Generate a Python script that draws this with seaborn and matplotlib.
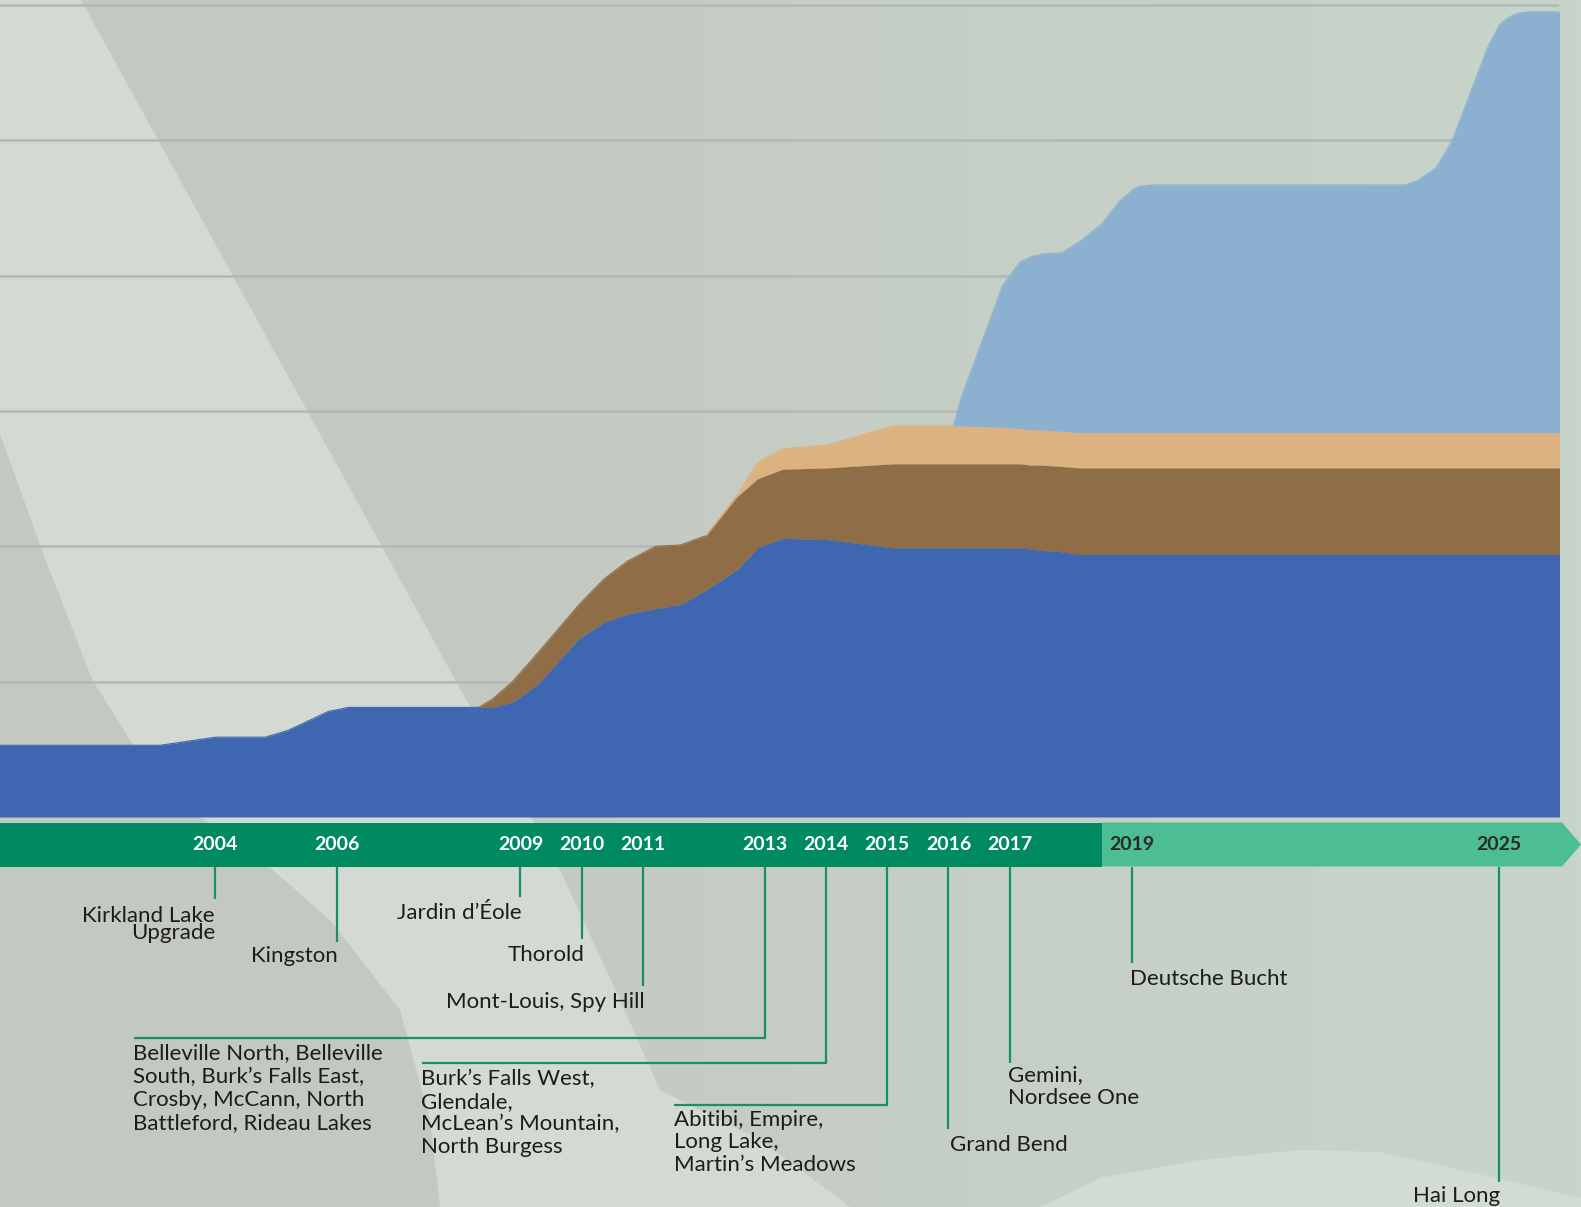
import numpy as np
import matplotlib
matplotlib.use("Agg")
import matplotlib.pyplot as plt
from matplotlib.patches import Polygon
from matplotlib.colors import LinearSegmentedColormap
import seaborn as sns

# ---------------- data ----------------
years = [2000.40, 2003.11, 2004.02, 2004.83, 2005.20, 2005.86, 2006.19, 2008.32, 2008.54, 2008.87,
         2009.28, 2009.96, 2010.37, 2010.75, 2011.21, 2011.62, 2012.04, 2012.55, 2012.88, 2013.29,
         2014.03, 2015.09, 2016.08, 2016.21, 2016.89,
         2017.17, 2017.35, 2017.53, 2017.86, 2018.14, 2018.50, 2018.80, 2019.03, 2019.13, 2019.33,
         2023.47, 2023.70, 2023.98, 2024.23, 2024.61, 2024.83, 2025.02, 2025.16, 2025.32, 2025.50,
         2026.10]

series_blue = [0.53, 0.53, 0.59, 0.59, 0.64, 0.78, 0.81, 0.81, 0.81, 0.85,
               0.98, 1.32, 1.44, 1.50, 1.54, 1.57, 1.68, 1.83, 1.99, 2.06,
               2.05, 1.99, 1.99, 1.99, 1.99,
               1.99, 1.98, 1.97, 1.96, 1.94, 1.94, 1.94, 1.94, 1.94, 1.94,
               1.94, 1.94, 1.94, 1.94, 1.94, 1.94, 1.94, 1.94, 1.94, 1.94,
               1.94]
series_brown = [0, 0, 0, 0, 0, 0, 0, 0, 0.06, 0.15,
                0.23, 0.25, 0.32, 0.39, 0.46, 0.44, 0.40, 0.54, 0.51, 0.51,
                0.53, 0.62, 0.62, 0.62, 0.62,
                0.62, 0.62, 0.63, 0.63, 0.64, 0.64, 0.64, 0.64, 0.64, 0.64,
                0.64, 0.64, 0.64, 0.64, 0.64, 0.64, 0.64, 0.64, 0.64, 0.64,
                0.64]
series_tan = [0, 0, 0, 0, 0, 0, 0, 0, 0, 0,
              0, 0, 0, 0, 0, 0, 0, 0.01, 0.12, 0.15,
              0.17, 0.28, 0.28, 0.28, 0.27,
              0.26, 0.26, 0.26, 0.26, 0.26, 0.26, 0.26, 0.26, 0.26, 0.26,
              0.26, 0.26, 0.26, 0.26, 0.26, 0.26, 0.26, 0.26, 0.26, 0.26,
              0.26]
series_lightblue = [0, 0, 0, 0, 0, 0, 0, 0, 0, 0,
                    0, 0, 0, 0, 0, 0, 0, 0, 0, 0,
                    0, 0, 0, 0.21, 1.05,
                    1.23, 1.28, 1.30, 1.32, 1.41, 1.54, 1.71, 1.80, 1.82, 1.83,
                    1.83, 1.87, 1.96, 2.15, 2.60, 2.86, 3.02, 3.07, 3.10, 3.11,
                    3.11]

milestone_years = [2004, 2006, 2009, 2010, 2011, 2013, 2014, 2015, 2016, 2017, 2019, 2025]
milestone_labels = [
    "Kirkland Lake\nUpgrade",
    "Kingston",
    "Jardin d\u2019\u00c9ole",
    "Thorold",
    "Mont-Louis, Spy Hill",
    "Belleville North, Belleville\nSouth, Burk\u2019s Falls East,\nCrosby, McCann, North\nBattleford, Rideau Lakes",
    "Burk\u2019s Falls West,\nGlendale,\nMcLean\u2019s Mountain,\nNorth Burgess",
    "Abitibi, Empire,\nLong Lake,\nMartin\u2019s Meadows",
    "Grand Bend",
    "Gemini,\nNordsee One",
    "Deutsche Bucht",
    "Hai Long",
]
planned_from = 2019  # milestones from here on are shown on the light bar

# ---------------- style ----------------
sns.set_theme(style="white")
plt.rcParams['font.family'] = ['Lato', 'DejaVu Sans']

COL_BLUE = '#3f66b0'
COL_BROWN = '#8f6e47'
COL_TAN = '#dcb280'
COL_LBLUE = '#8cb1d0'
COL_GRID = '#b3b7bb'
COL_DKGREEN = '#008a5f'
COL_LTGREEN = '#4dbd94'
COL_LEADER = '#17906a'
COL_TEXT = '#1c1c1c'

W, H = 1581, 1207
fig = plt.figure(figsize=(W / 100, H / 100), dpi=100)

# ---------------- background decoration ----------------
bg = fig.add_axes([0, 0, 1, 1], zorder=0)
bg.set_xlim(0, W)
bg.set_ylim(H, 0)
bg.axis('off')
grad = np.linspace(0, 1, 256)[None, :]
cmap = LinearSegmentedColormap.from_list('bgc', ['#c3c8c0', '#c4cac2', '#c6d0c6', '#c8d5cb'])
bg.imshow(grad, extent=[0, W, H, 0], aspect='auto', cmap=cmap, zorder=0)
light_band = [(0, 0), (81, 0), (560, 870), (620, 1000), (660, 1090), (760, 1140), (850, 1207),
              (440, 1207), (430, 1120), (400, 1010), (330, 920), (250, 850), (175, 800),
              (133, 745), (92, 679), (46, 561), (0, 434)]
bg.add_patch(Polygon(light_band, closed=True, fc='#d4dad3', ec='none', zorder=1))
hump = [(1040, 1207), (1100, 1178), (1200, 1160), (1300, 1150), (1380, 1152), (1470, 1172),
        (1581, 1198), (1581, 1207)]
bg.add_patch(Polygon(hump, closed=True, fc='#d2dcd5', ec='none', zorder=1))

# ---------------- main stacked area ----------------
px_per_year = 61.15
x0_year = 2000.49
base_px = 817
unit_px = 135.33

ax = fig.add_axes([0, 1 - base_px / H, 1559 / W, base_px / H], zorder=2)
ax.set_facecolor('none')
ax.set_xlim(x0_year, x0_year + 1559 / px_per_year)
ax.set_ylim(0, base_px / unit_px)
for g in range(1, 7):
    ax.axhline(g, color=COL_GRID, lw=1.8, zorder=1)

x = np.array(years)
layers = np.vstack([series_blue, series_brown, series_tan, series_lightblue])
cum = np.cumsum(layers, axis=0)
colors = [COL_BLUE, COL_BROWN, COL_TAN, COL_LBLUE]
lower = np.zeros_like(x)
for i, c in enumerate(colors):
    upper = cum[i]
    ax.fill_between(x, lower, upper, color=c, lw=0, zorder=3 + i)
    nz = np.nonzero(layers[i] > 0)[0]
    if len(nz):
        s = max(nz[0] - 1, 0)
        sns.lineplot(x=x[s:], y=upper[s:], color=c, lw=0.8, ax=ax, sort=False,
                     estimator=None, zorder=3 + i)
    lower = upper
ax.set_xlabel('')
ax.set_ylabel('')
ax.set_xticks([])
ax.set_yticks([])
for sp in ax.spines.values():
    sp.set_visible(False)

# ---------------- timeline + annotations ----------------
tl = fig.add_axes([0, 0, 1, (H - base_px) / H], zorder=3)
tl.set_facecolor('none')
tl.set_xlim(x0_year, x0_year + W / px_per_year)
tl.set_ylim(H, base_px)
tl.axis('off')


def px2yr(px):
    return x0_year + px / px_per_year


bar_top, bar_bot = 822.5, 866.5
split_yr = px2yr(1102)
tl.add_patch(Polygon([(px2yr(0), bar_top), (split_yr, bar_top), (split_yr, bar_bot), (px2yr(0), bar_bot)],
                     closed=True, fc=COL_DKGREEN, ec='none', zorder=2))
tl.add_patch(Polygon([(split_yr, bar_top), (px2yr(1562), bar_top), (px2yr(1581), (bar_top + bar_bot) / 2),
                      (px2yr(1562), bar_bot), (split_yr, bar_bot)],
                     closed=True, fc=COL_LTGREEN, ec='none', zorder=2))

# layout per milestone: leader end y, text anchor x (px), first baseline y, line step, ha, elbow x (px)
layout = {
    2004: dict(end=899, tx=215, ty=921.5, step=17.2, ha='right', elbow=None),
    2006: dict(end=942, tx=338, ty=962.5, step=23, ha='right', elbow=None),
    2009: dict(end=897, tx=521.5, ty=919, step=23, ha='right', elbow=None),
    2010: dict(end=939, tx=584, ty=961, step=23, ha='right', elbow=None),
    2011: dict(end=986, tx=645, ty=1008, step=23, ha='right', elbow=None),
    2013: dict(end=1038, tx=133, ty=1059.5, step=23.2, ha='left', elbow=134),
    2014: dict(end=1063, tx=421, ty=1085.3, step=22.6, ha='left', elbow=422),
    2015: dict(end=1105, tx=674, ty=1125.6, step=22.6, ha='left', elbow=674.5),
    2016: dict(end=1129, tx=949.6, ty=1150.7, step=23, ha='left', elbow=None),
    2017: dict(end=1062.5, tx=1008.4, ty=1081.3, step=22.5, ha='left', elbow=None),
    2019: dict(end=963, tx=1130.5, ty=984.6, step=23, ha='left', elbow=None),
    2025: dict(end=1182, tx=1500.5, ty=1202, step=23, ha='right', elbow=None),
}

for yr, lab in zip(milestone_years, milestone_labels):
    L = layout[yr]
    tcol = '#2a2a2a' if yr >= planned_from else 'white'
    tl.text(yr, 849.5, str(yr), ha='center', va='baseline', fontsize=14,
            fontweight='bold', color=tcol, zorder=4)
    xs = [yr, yr]
    ys = [bar_bot, L['end']]
    if L['elbow'] is not None:
        xs.append(px2yr(L['elbow']))
        ys.append(L['end'])
    tl.plot(xs, ys, color=COL_LEADER, lw=1.6, solid_capstyle='butt', zorder=3)
    for k, line in enumerate(lab.split('\n')):
        tl.text(px2yr(L['tx']), L['ty'] + k * L['step'], line, ha=L['ha'], va='baseline',
                fontsize=16, color=COL_TEXT, zorder=4)

fig.savefig('out.png', dpi=100)
